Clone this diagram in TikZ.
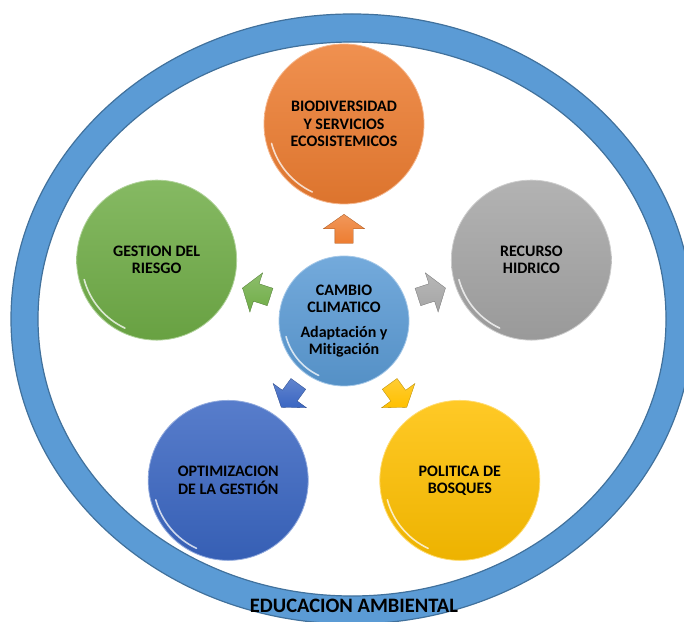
\documentclass[tikz,border=0pt]{standalone}
\usepackage{fontspec}
\setmainfont[Ligatures=NoCommon]{Carlito}
\usetikzlibrary{calc, shapes.arrows}
\definecolor{ringblue}{HTML}{5B9BD5}
\definecolor{ringedge}{HTML}{41719C}
\definecolor{orng}{HTML}{ED7D31}
\definecolor{grn}{HTML}{70AD47}
\definecolor{gry}{HTML}{A5A5A5}
\definecolor{blu}{HTML}{3A66C2}
\definecolor{ylw}{HTML}{FFC000}
\definecolor{cblu}{HTML}{5B9BD5}

\begin{document}
\begin{tikzpicture}[x=1pt, y=1pt,
    orb/.style={circle, inner sep=0pt, minimum size=160pt, align=center,
      top color=#1!85!white, bottom color=#1!93!black, draw=#1!55!white, line width=0.8pt,
      font=\bfseries\fontsize{16}{17.2}\selectfont},
    pointer/.style={single arrow, draw=#1!70!black, line width=0.3pt,
      top color=#1!80!white, bottom color=#1, inner xsep=0pt, inner ysep=9pt,
      minimum height=29pt, single arrow head extend=11.5pt, single arrow tip angle=110},
    gloss/.style={white, opacity=0.75, line width=1.6pt, line cap=round}]
    \useasboundingbox (0,0) rectangle (684,621);
    \begin{scope}
        \clip (0,0) rectangle (684,621);
        % Outer ring
        \path[fill=ringblue, draw=ringedge, line width=1.2pt, even odd rule]
            (352,302) ellipse [x radius=341, y radius=305]
            (352,302) ellipse [x radius=314, y radius=277];
    \end{scope}

    % Centre
    \coordinate (cc) at (344,300);
    \node[orb=cblu, minimum size=130pt] (cam) at (cc)
        {CAMBIO\\CLIMATICO\\[8pt]Adaptación y\\Mitigación};

    % Surrounding themes
    \node[orb=orng] (bio) at ($(cc)+(90:197)$) {BIODIVERSIDAD\\Y SERVICIOS\\ECOSISTEMICOS};
    \node[orb=gry]  (rec) at ($(cc)+(18:197)$) {RECURSO\\HIDRICO};
    \node[orb=grn]  (ges) at ($(cc)+(162:197)$) {GESTION DEL\\RIESGO};
    \node[orb=blu]  (opt) at ($(cc)+(234:197)$) {OPTIMIZACION\\DE LA GESTIÓN};
    \node[orb=ylw]  (pol) at ($(cc)+(306:197)$) {POLITICA DE\\BOSQUES};

    % Highlights
    \draw[gloss] ($(bio)+(195:75)$) arc[start angle=195, end angle=245, radius=75];
    \draw[gloss] ($(rec)+(195:75)$) arc[start angle=195, end angle=245, radius=75];
    \draw[gloss] ($(ges)+(195:75)$) arc[start angle=195, end angle=245, radius=75];
    \draw[gloss] ($(opt)+(195:75)$) arc[start angle=195, end angle=245, radius=75];
    \draw[gloss] ($(pol)+(195:75)$) arc[start angle=195, end angle=245, radius=75];
    \draw[gloss] ($(cam)+(195:60)$) arc[start angle=195, end angle=245, radius=60];

    % Arrows out of the centre
    \node[pointer=orng, rotate=90]  (a1) at ($(cc)+(90:89)$) {};
    \node[pointer=gry,  rotate=18]  (a2) at ($(cc)+(18:89)$) {};
    \node[pointer=grn,  rotate=162] (a3) at ($(cc)+(162:89)$) {};
    \node[pointer=blu,  rotate=234] (a4) at ($(cc)+(234:89)$) {};
    \node[pointer=ylw,  rotate=306] (a5) at ($(cc)+(306:89)$) {};

    \node[font=\bfseries\fontsize{20.5}{22}\selectfont] (ea) at (354,15) {EDUCACION AMBIENTAL};
\end{tikzpicture}
\end{document}
